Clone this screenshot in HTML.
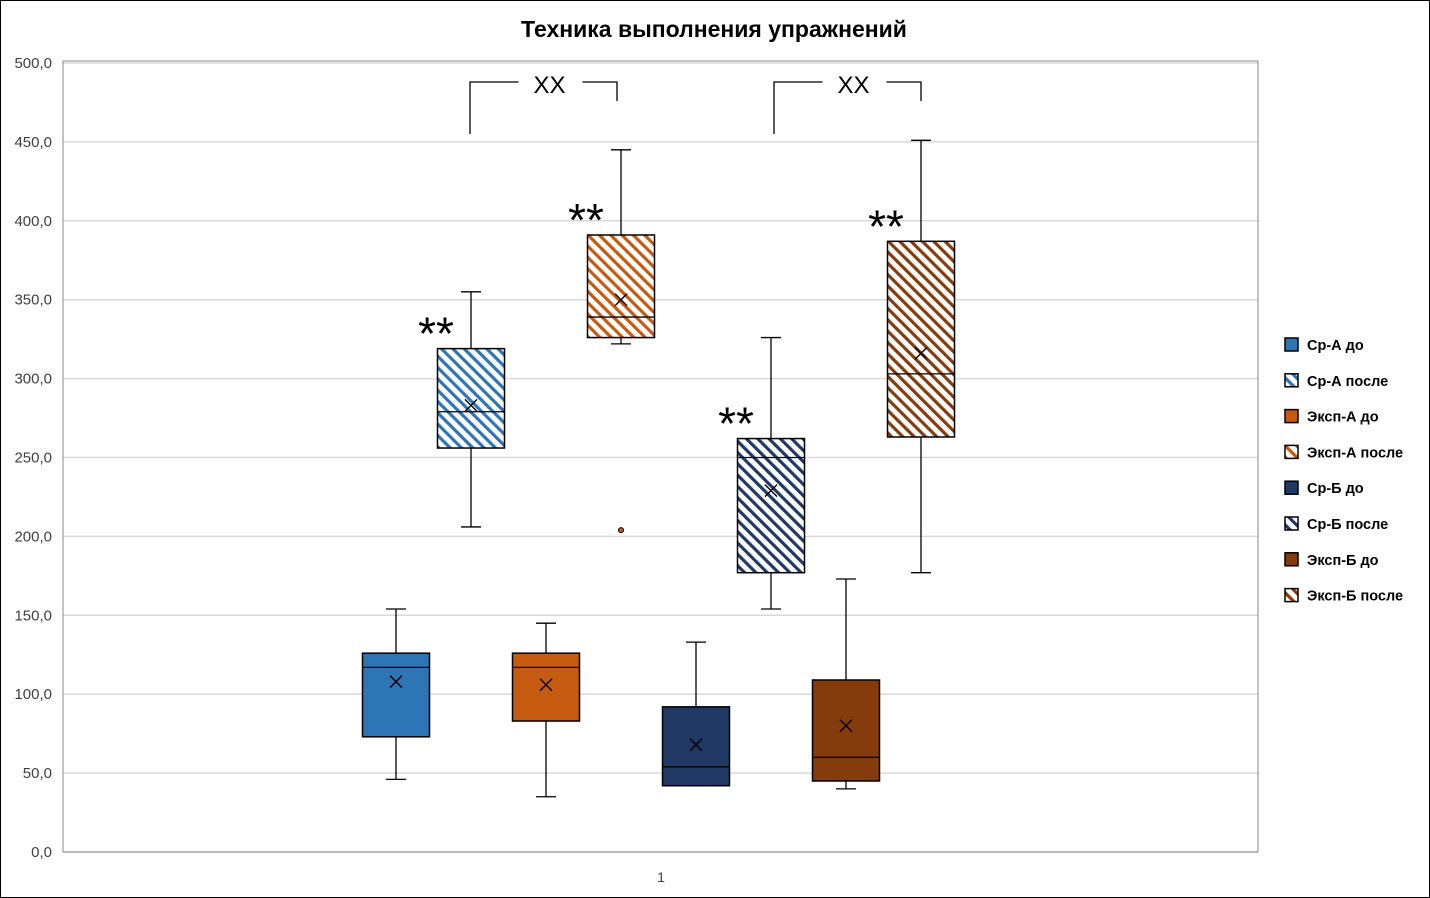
<!DOCTYPE html>
<html><head><meta charset="utf-8"><style>
html,body{margin:0;padding:0;background:#fff}
svg{display:block}
</style></head><body>
<svg id="chart" width="1430" height="898" viewBox="0 0 1430 898" xmlns="http://www.w3.org/2000/svg">
<defs>
<pattern id="h0" patternUnits="userSpaceOnUse" width="8" height="8" patternTransform="rotate(-45)"><rect width="8" height="8" fill="#fff"/><rect width="3.2" height="8" fill="#2E75B6"/></pattern>
<pattern id="h1" patternUnits="userSpaceOnUse" width="8" height="8" patternTransform="rotate(-45)"><rect width="8" height="8" fill="#fff"/><rect width="3.2" height="8" fill="#C55A11"/></pattern>
<pattern id="h2" patternUnits="userSpaceOnUse" width="8" height="8" patternTransform="rotate(-45)"><rect width="8" height="8" fill="#fff"/><rect width="3.2" height="8" fill="#203864"/></pattern>
<pattern id="h3" patternUnits="userSpaceOnUse" width="8" height="8" patternTransform="rotate(-45)"><rect width="8" height="8" fill="#fff"/><rect width="3.2" height="8" fill="#843C0C"/></pattern>
</defs>
<rect x="0.5" y="0.5" width="1429" height="897" fill="#fff" stroke="#000"/>
<text x="714" y="37" text-anchor="middle" font-family="'Liberation Sans',sans-serif" font-weight="bold" font-size="23">Техника выполнения упражнений</text>
<g id="grid"></g>
<rect x="63" y="61" width="1195" height="791" fill="none" stroke="#8a8a8a" stroke-width="1"/>
<g id="marks"></g>
<g id="legend"></g>
<text x="661" y="882" text-anchor="middle" font-family="'Liberation Sans',sans-serif" font-size="14" fill="#404040">1</text>
</svg>
<script>
const series = ["Ср-А до","Ср-А после","Эксп-А до","Эксп-А после","Ср-Б до","Ср-Б после","Эксп-Б до","Эксп-Б после"];
const whiskerLow = [46,206,35,322,42,154,40,177];
const q1 = [73,256,83,326,42,177,45,263];
const median = [117,279,117,339,54,250,60,303];
const q3 = [126,319,126,391,92,262,109,387];
const whiskerHigh = [154,355,145,445,133,326,173,451];
const means = [108,283,106,350,68,229,80,316];
const outliers = [[],[],[],[204],[],[],[],[]];
const yTicks = [0,50,100,150,200,250,300,350,400,450,500];
const yTickLabels = ["0,0","50,0","100,0","150,0","200,0","250,0","300,0","350,0","400,0","450,0","500,0"];
const colors = ["#2E75B6","#2E75B6","#C55A11","#C55A11","#203864","#203864","#843C0C","#843C0C"];
const hatched = [false,true,false,true,false,true,false,true];
const starLabels = ["","**","","**","","**","","**"];

const NS="http://www.w3.org/2000/svg";
const y = v => 852 - v*789/500;
const xc = i => 396 + i*75;
function mk(tag, attrs, parent){const e=document.createElementNS(NS,tag);for(const k in attrs)e.setAttribute(k,attrs[k]);parent.appendChild(e);return e;}
const grid=document.getElementById('grid'), marks=document.getElementById('marks'), legend=document.getElementById('legend');
yTicks.forEach((t,i)=>{
  const l=mk('line',{x1:63,x2:1258,y1:y(t),y2:y(t),stroke:'#d9d9d9','stroke-width':1.5},grid);
  
  
  const tx=mk('text',{x:52,y:y(t)+5,'text-anchor':'end','font-family':"'Liberation Sans',sans-serif",'font-size':15,fill:'#404040'},grid);
  tx.textContent=yTickLabels[i];
  
  
});
series.forEach((s,i)=>{
  const g=mk('g',{},marks);
  
  
  const cx=xc(i), w=67;
  mk('line',{x1:cx,x2:cx,y1:y(whiskerHigh[i]),y2:y(q3[i]),stroke:'#000','stroke-width':1.3},g);
  mk('line',{x1:cx,x2:cx,y1:y(q1[i]),y2:y(whiskerLow[i]),stroke:'#000','stroke-width':1.3},g);
  mk('line',{x1:cx-10,x2:cx+10,y1:y(whiskerHigh[i]),y2:y(whiskerHigh[i]),stroke:'#000','stroke-width':1.3},g);
  mk('line',{x1:cx-10,x2:cx+10,y1:y(whiskerLow[i]),y2:y(whiskerLow[i]),stroke:'#000','stroke-width':1.3},g);
  mk('rect',{x:cx-w/2,y:y(q3[i]),width:w,height:y(q1[i])-y(q3[i]),fill:hatched[i]?'url(#h'+(i>>1)+')':colors[i],stroke:'#000','stroke-width':1.5},g);
  mk('line',{x1:cx-w/2,x2:cx+w/2,y1:y(median[i]),y2:y(median[i]),stroke:'#000','stroke-width':1.3},g);
  const my=y(means[i]);
  mk('path',{d:`M${cx-6} ${my-6}L${cx+6} ${my+6}M${cx+6} ${my-6}L${cx-6} ${my+6}`,stroke:'#000','stroke-width':1.4},g);
  outliers[i].forEach(o=>{mk('circle',{cx:cx,cy:y(o),r:2.5,fill:colors[i],stroke:'#000','stroke-width':1},g);});
  if(starLabels[i]){
    const st=mk('text',{x:cx-35,y:y(q3[i])+1,'text-anchor':'middle','font-family':"'Liberation Sans',sans-serif",'font-size':46,fill:'#000'},marks);
    st.textContent=starLabels[i];
    
    
  }
  const ly=345+i*35.8;
  const lg=mk('g',{},legend);
  
  
  mk('rect',{x:1285,y:ly-7,width:13,height:13,fill:hatched[i]?'url(#h'+(i>>1)+')':colors[i],stroke:'#000','stroke-width':1.5},lg);
  const lt=mk('text',{x:1307,y:ly+5,'font-family':"'Liberation Sans',sans-serif",'font-weight':'bold','font-size':14.5,fill:'#000'},lg);
  lt.textContent=s;
});
[[470,617],[774,921]].forEach(([a,b])=>{
  const g=mk('g',{},marks);
  
  
  const m=(a+b)/2+5;
  mk('path',{d:`M${a} 134V82H${m-30}M${m+34} 82H${b}V101`,fill:'none',stroke:'#000','stroke-width':1.3},g);
  const t=mk('text',{x:m+1,y:93,'text-anchor':'middle','font-family':"'Liberation Sans',sans-serif",'font-size':24,fill:'#000'},g);
  t.textContent='XX';
});
</script>
</body></html>
